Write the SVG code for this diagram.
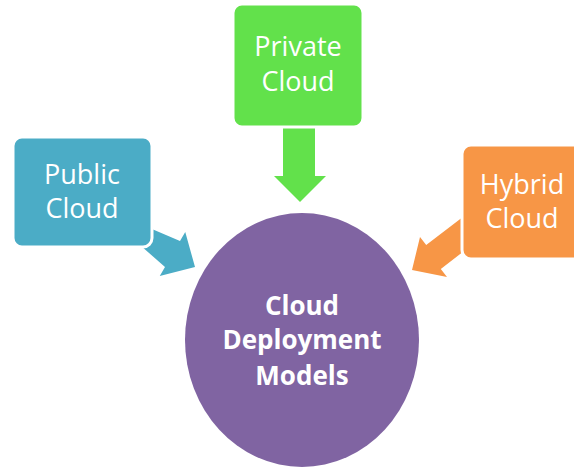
<svg xmlns="http://www.w3.org/2000/svg" width="574" height="467" viewBox="0 0 574 467">
<style>
.box{stroke:#fff;stroke-width:3}
.lbl{font-family:"Open Sans","Liberation Sans",sans-serif;font-size:27px;fill:#fff;text-anchor:middle}
.main{font-family:"Open Sans","Liberation Sans",sans-serif;font-size:26px;font-weight:bold;fill:#fff;text-anchor:middle}
</style>
<rect width="574" height="467" fill="#fff"/>
<g id="connectors">
<polygon fill="#4BACC6" points="121.5,216 180,241 185.25,232 195,267 159.75,276 165,267 136.5,242"/>
<polygon fill="#62E14B" points="283,120 315,120 315,176 326,176 300,202 274,176 283,176"/>
<polygon fill="#F79646" points="472,210 426.2,245 420,237 412,270 447,277 440.8,269 486,234"/>
</g>
<g id="public">
<rect class="box" x="13" y="137" width="139" height="110" rx="9" fill="#4BACC6"/>
<text class="lbl" x="82" y="184">Public</text>
<text class="lbl" x="82" y="218">Cloud</text>
</g>
<g id="private">
<rect class="box" x="233" y="4" width="130" height="123" rx="9" fill="#62E14B"/>
<text class="lbl" x="298" y="56">Private</text>
<text class="lbl" x="298" y="91">Cloud</text>
</g>
<g id="hybrid">
<rect class="box" x="462" y="145" width="130" height="114" rx="9" fill="#F79646"/>
<text class="lbl" x="522" y="194">Hybrid</text>
<text class="lbl" x="522" y="228">Cloud</text>
</g>
<g id="center">
<ellipse cx="302" cy="340" rx="117" ry="127" fill="#8064A2"/>
<text class="main" x="302" y="315">Cloud</text>
<text class="main" x="302" y="349">Deployment</text>
<text class="main" x="302" y="385">Models</text>
</g>
</svg>
